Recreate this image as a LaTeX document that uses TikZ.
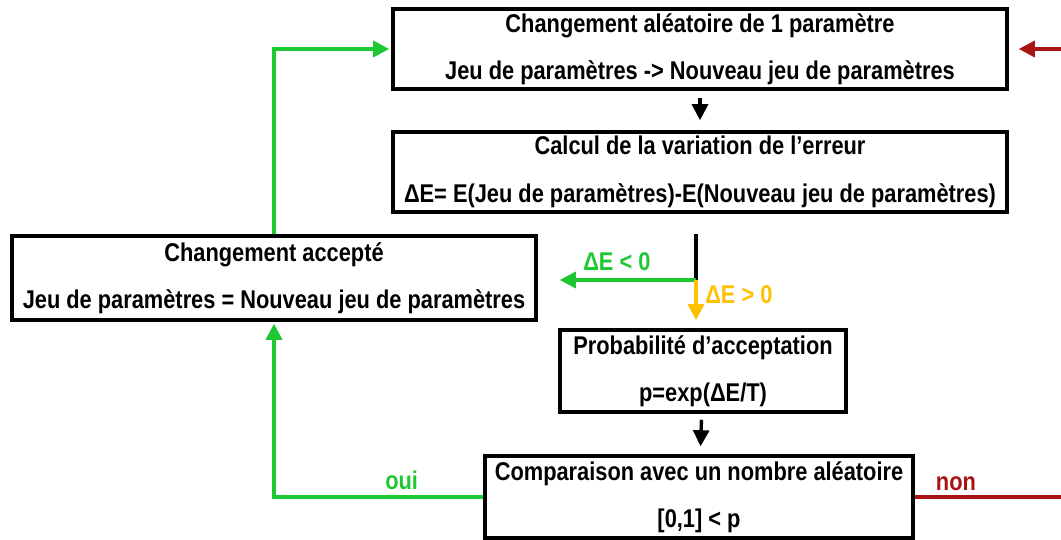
\documentclass[tikz,border=0pt]{standalone}
\usepackage{fontspec}
\setmainfont[FakeStretch=0.85]{Liberation Sans}
\usepackage{tikz}
\usetikzlibrary{positioning, arrows.meta}
\definecolor{vert}{RGB}{30,200,50}
\definecolor{jaune}{RGB}{255,192,0}
\definecolor{rouge}{RGB}{170,20,20}
\tikzset{
	>={Triangle[length=3.2mm, width=3.2mm]}, % filled triangle heads
	fleche/.style={->, line width=1.9pt}, % every connector
	etape/.style={draw, line width=2pt, align=center, inner sep=2pt,
		font=\bfseries\fontsize{14.6}{17}\selectfont}, % the boxes
	etiq/.style={font=\bfseries\fontsize{14.6}{17}\selectfont}, % edge labels
}

\begin{document}
\begin{tikzpicture}
	\useasboundingbox (0,0) rectangle (21.22,10.8);
	\clip (0,0) rectangle (21.22,10.8);
	\node[etape, minimum width=12.28cm, minimum height=1.6cm] (chg) at (14.0,9.82)
		{Changement aléatoire de 1 paramètre\\[10pt]Jeu de paramètres -> Nouveau jeu de paramètres};
	\node[etape, minimum width=12.28cm, minimum height=1.6cm] (calc) at (14.0,7.36)
		{Calcul de la variation de l’erreur\\[10pt]Δ{}E= E(Jeu de paramètres)-E(Nouveau jeu de paramètres)};
	\node[etape, minimum width=10.48cm, minimum height=1.68cm] (acc) at (5.48,5.24)
		{Changement accepté\\[10pt]Jeu de paramètres = Nouveau jeu de paramètres};
	\node[etape, minimum width=5.72cm, minimum height=1.64cm] (prob) at (14.06,3.38)
		{Probabilité d’acceptation\\[10pt]p=exp(Δ{}E/T)};
	\node[etape, minimum width=8.56cm, minimum height=1.64cm] (cmp) at (13.98,0.86)
		{Comparaison avec un nombre aléatoire\\[10pt][0,1] < p};
	\coordinate (split) at (13.92,5.2);
	\coordinate (loin) at (22.0,0.86);
	\draw[fleche, shorten <=0.14cm, shorten >=0.2cm] (chg) -- (calc);
	\draw[line width=1.9pt, shorten <=0.4cm] (calc.south -| split) -- (split);
	\draw[fleche, vert, shorten >=0.44cm] (split) -- (acc.east |- split)
		node[etiq, midway, above=1pt] {Δ{}E < 0};
	\draw[fleche, jaune, shorten >=0.16cm] (split) -- (prob.north -| split)
		node[etiq, pos=0.3, right=1pt] {Δ{}E > 0};
	\draw[fleche, shorten <=0.12cm, shorten >=0.16cm] (prob) -- (cmp);
	\draw[fleche, vert, shorten >=0.04cm] (cmp.west) -| (acc.south)
		node[etiq, pos=0.195, above=0pt] {oui};
	\draw[fleche, vert, shorten >=0.04cm] (acc.north) |- (chg.west);
	\draw[fleche, rouge, shorten >=0.2cm] (cmp.east) -| (loin) |- (chg.east);
	\node[etiq, rouge, above right=0pt and 0.3cm of cmp.east] (non) {non};
\end{tikzpicture}
\end{document}
